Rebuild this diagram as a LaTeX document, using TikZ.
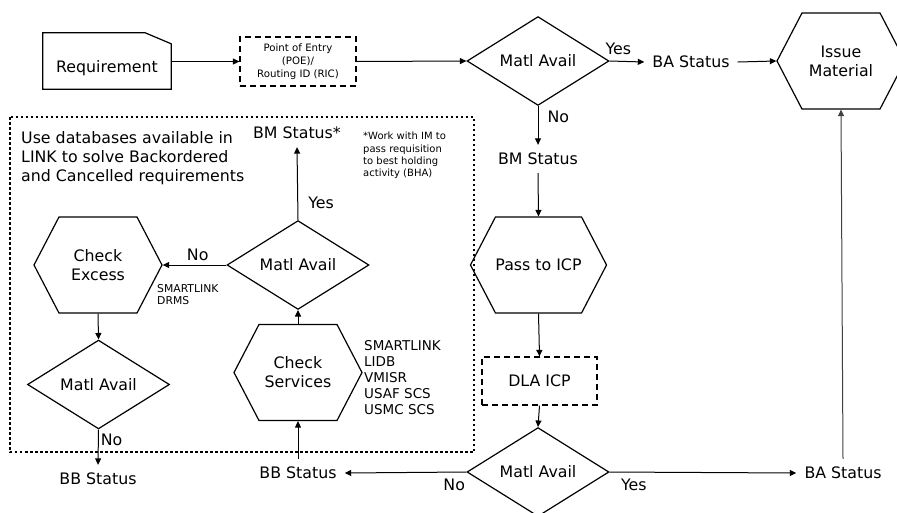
\documentclass[tikz,border=0pt]{standalone}
\usepackage{fontspec}
\setmainfont{DejaVu Sans}
\usetikzlibrary{arrows.meta,shapes.geometric,shapes.symbols}
\tikzset{
  flow/.style={line width=1pt, -{Triangle[length=6.5pt,width=6pt]}},
  lbl/.style={font=\fontsize{15.8}{18}\selectfont, inner sep=2pt},
  status/.style={font=\fontsize{15.8}{18}\selectfont, inner sep=8pt},
  diam/.style={draw, diamond, line width=1.2pt, minimum width=142pt, minimum height=87pt, inner sep=0pt, font=\fontsize{15.8}{18}\selectfont},
  hexa/.style={draw, signal, signal to=west and east, signal pointer angle=125, line width=1.2pt, minimum width=128pt, minimum height=96pt, inner sep=0pt, align=center, font=\fontsize{15.8}{19}\selectfont},
  dashbox/.style={draw, line width=1.2pt, dash pattern=on 6pt off 4pt, inner sep=0pt, align=center},
  docbox/.style={minimum width=128pt, minimum height=56pt, inner sep=0pt}
}
\begin{document}
\begin{tikzpicture}[x=1pt,y=-1pt]
\useasboundingbox (0,0) rectangle (897,512);
\draw[line width=2.5pt, dash pattern=on 2.5pt off 2.5pt] (10,117) rectangle (474,452);
\node[docbox] (req) at (107,61) {};
\draw[line width=1.2pt] (req.south west) -- (req.north west) -- ([xshift=-26pt]req.north east) -- ([yshift=-11pt]req.north east) -- (req.south east) -- cycle;
\node[lbl] (reqlabel) at (107,68) {Requirement};
\node[dashbox, minimum width=116pt, minimum height=49pt, font=\fontsize{10.2}{13}\selectfont] (poe) at (298,61.5) {Point of Entry\\(POE)/\\Routing ID (RIC)};
\node[diam] (avail1) at (538,61) {Matl Avail};
\node[status] (bastat1) at (691,62) {BA Status};
\node[hexa] (issue) at (841,61) {Issue\\Material};
\node[status] (bmstat1) at (538,159) {BM Status};
\node[hexa] (pass) at (538.5,265) {Pass to ICP};
\node[dashbox, minimum width=115pt, minimum height=48pt, font=\fontsize{15.8}{18}\selectfont] (dla) at (539.5,381) {DLA ICP};
\node[diam] (avail2) at (538,472) {Matl Avail};
\node[status] (bastat2) at (843,473) {BA Status};
\node[status] (bbstat1) at (298,473) {BB Status};
\node[hexa] (services) at (298,372.5) {Check\\Services};
\node[diam] (avail3) at (298,265) {Matl Avail};
\node[status] (bmstar) at (297,133) {BM Status*};
\node[hexa] (excess) at (98,265) {Check\\Excess};
\node[diam] (avail4) at (98.5,384.5) {Matl Avail};
\node[status] (bbstat2) at (98,479) {BB Status};
\node[anchor=north west, inner sep=0pt, align=left, font=\fontsize{15.8}{19}\selectfont] (linknote) at (21,131) {Use databases available in\\LINK to solve Backordered\\and Cancelled requirements};
\node[anchor=west, inner sep=0pt, align=left, font=\fontsize{10}{12.3}\selectfont] (bhanote) at (363,155.5) {*Work with IM to\\pass requisition\\to best holding\\activity (BHA)};
\node[anchor=west, inner sep=0pt, align=left, font=\fontsize{13.5}{16}\selectfont] (svcdb) at (364,378) {SMARTLINK\\LIDB\\VMISR\\USAF SCS\\USMC SCS};
\node[anchor=west, inner sep=0pt, align=left, font=\fontsize{10.8}{12}\selectfont] (excessdb) at (157,295) {SMARTLINK\\DRMS};
\draw[flow] ([yshift=-0.5pt]req.east) -- (poe.west);
\draw[flow] (poe.east) -- (avail1.west);
\draw[flow] (avail1.east) -- node[lbl, above=4pt, pos=0.25] {Yes} (bastat1.west);
\draw[flow] (bastat1.east) -- (issue.west);
\draw[flow] (avail1.south) -- node[lbl, right=7pt, pos=0.28] {No} (bmstat1.north);
\draw[flow] (bmstat1.south) -- (pass.north);
\draw[flow] (pass.south) -- (dla.north);
\draw[flow] (dla.south) -- (avail2.north);
\draw[flow] (avail2.east) -- node[lbl, below=4pt, pos=0.13] {Yes} (bastat2.west);
\draw[flow, draw=black!75] (bastat2.north) -- (issue.south);
\draw[flow] (avail2.west) -- node[lbl, below=4pt, pos=0.1] {No} (bbstat1.east);
\draw[flow] (bbstat1.north) -- (services.south);
\draw[flow] (services.north) -- (avail3.south);
\draw[flow] (avail3.north) -- node[lbl, right=8pt, pos=0.23] {Yes} (bmstar.south);
\draw[flow] (avail3.west) -- node[lbl, above=2pt, pos=0.45] {No} (excess.east);
\draw[flow] (excess.south) -- (avail4.north);
\draw[flow] (avail4.south) -- node[lbl, right, pos=0.3] {No} (bbstat2.north);
\end{tikzpicture}
\end{document}
